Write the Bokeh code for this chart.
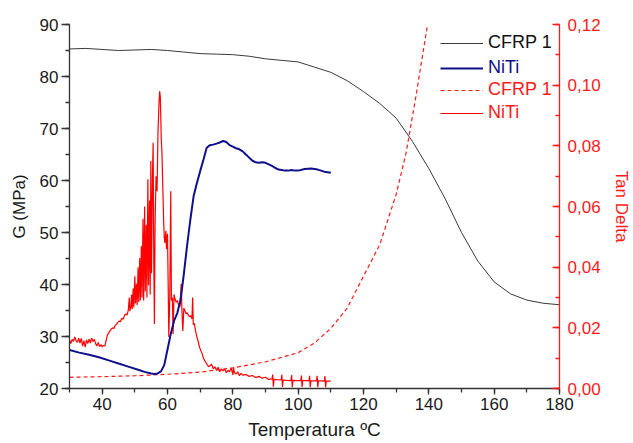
from bokeh.plotting import figure
from bokeh.models import (Range1d, LinearAxis, SingleIntervalTicker, CustomJSTickFormatter,
                          Legend, LegendItem)
from bokeh.embed import file_html
from bokeh.resources import INLINE

FONT = "Liberation Sans"

# ---- data ----
cfrp_G_T = [30, 35, 40, 45, 50, 55, 60, 65, 70, 75, 80, 85, 90, 95, 100, 105, 110, 115, 120,
            125, 130, 135, 140, 145, 150, 155, 160, 165, 170, 175, 180]
cfrp_G = [85.3, 85.4, 85.2, 85.0, 85.1, 85.2, 85.0, 84.7, 84.4, 84.3, 84.2, 83.9, 83.4, 83.1, 82.8,
          81.8, 80.8, 79.2, 77.1, 74.8, 72.0, 67.5, 62.3, 56.5, 50.0, 44.5, 40.5, 38.2, 37.0, 36.4, 36.1]

niti_G_T = [30, 33, 36, 39, 42, 45, 48, 51, 53, 55, 56, 57, 58, 59, 60, 61, 62, 63, 64, 65, 66, 67,
            68, 69, 70, 71, 72, 73, 74, 75, 76, 77, 78, 79, 80, 81, 82, 83, 84, 85, 86, 87, 88, 89,
            90, 91, 92, 93, 94, 95, 96, 97, 98, 99, 100, 102, 104, 106, 108, 110]
niti_G = [27.4, 26.9, 26.5, 26.0, 25.4, 24.8, 24.2, 23.6, 23.2, 22.9, 22.8, 22.9, 23.3, 24.5, 27.5,
          30.5, 33.0, 34.5, 37.0, 42.0, 47.5, 52.5, 57.0, 59.5, 61.8, 64.0, 66.3, 66.8, 66.9, 67.1,
          67.3, 67.6, 67.4, 66.8, 66.5, 66.2, 66.0, 65.6, 65.0, 64.4, 63.8, 63.5, 63.4, 63.5, 63.4,
          63.1, 62.8, 62.4, 62.1, 62.0, 61.9, 61.9, 62.0, 61.9, 61.9, 62.2, 62.3, 62.1, 61.7, 61.5]

cfrp_td_T = [30, 40, 50, 60, 70, 80, 90, 100, 105, 110, 115, 120, 125, 130, 133, 136, 139.6]
cfrp_td = [0.0037, 0.0039, 0.0042, 0.0047, 0.0054, 0.0068, 0.0088, 0.0118, 0.0150, 0.0198,
           0.0265, 0.0370, 0.0475, 0.0640, 0.0775, 0.0960, 0.1200]

niti_td_T = [30.0, 30.4, 30.8, 31.2, 31.6, 32.0, 32.4, 32.8, 33.2, 33.6, 34.0, 34.4, 34.8, 35.2, 35.6,
             36.0, 36.4, 36.8, 37.2, 37.6, 38.0, 38.4, 38.8, 39.2, 39.6, 40.0, 40.4, 40.8, 41.2, 41.6,
             42.0, 42.4, 42.8, 43.2, 43.6, 44.0, 44.4, 44.8, 45.2, 45.6, 46.0, 46.4, 46.8, 47.2, 47.6,
             48.0, 48.3, 48.5, 48.8, 49.0, 49.2, 49.5, 49.7, 50.0, 50.2, 50.5, 50.7, 51.0, 51.2, 51.5,
             51.7, 52.0, 52.2, 52.5, 52.7, 53.0, 53.2, 53.5, 53.7, 54.0, 54.2, 54.5, 54.7, 54.9, 55.1,
             55.4, 55.6, 55.8, 56.0, 56.2, 56.5, 56.8, 57.1, 57.4, 57.6, 57.8, 58.1, 58.3, 58.6, 58.8,
             59.0, 59.2, 59.5, 59.7, 60.0, 60.2, 60.4, 60.7, 61.0, 61.2, 61.5, 61.7, 62.0, 62.2, 62.6,
             63.0, 63.4, 63.8, 64.2, 64.4, 64.7, 65.0, 65.4, 65.7, 66.0, 66.4, 66.8, 67.2, 67.5, 67.7,
             67.9, 68.2, 68.6, 69.0, 69.4, 69.8, 70.2, 70.6, 71.0, 71.4, 71.8, 72.2, 72.6, 73.0, 73.5,
             74.0, 74.5, 75.0, 75.5, 76.0, 76.5, 77.0, 77.5, 78.0, 78.5, 79.0, 79.5, 80.0, 80.2, 80.5,
             81.0, 81.5, 82.0, 82.5, 83.0, 84.0, 85.0, 86.0, 87.0, 88.0, 89.0, 90.0, 91.0, 92.0, 92.2,
             92.4, 92.6, 93.5, 94.8, 95.0, 95.2, 95.4, 96.5, 97.8, 98.0, 98.2, 98.4, 99.5, 100.8, 101.0,
             101.2, 101.4, 102.5, 103.3, 103.5, 103.7, 103.9, 104.8, 105.6, 105.8, 106.0, 106.2, 107.2,
             108.0, 108.2, 108.4, 108.6, 109.4, 110.0]
niti_td = [0.0160, 0.0148, 0.0162, 0.0155, 0.0170, 0.0158, 0.0152, 0.0166, 0.0150, 0.0165, 0.0140,
           0.0158, 0.0136, 0.0160, 0.0148, 0.0163, 0.0150, 0.0166, 0.0155, 0.0162, 0.0148, 0.0140,
           0.0152, 0.0138, 0.0145, 0.0137, 0.0142, 0.0140, 0.0158, 0.0176, 0.0184, 0.0190, 0.0196,
           0.0200, 0.0198, 0.0208, 0.0212, 0.0218, 0.0222, 0.0220, 0.0232, 0.0228, 0.0240, 0.0246,
           0.0242, 0.0258, 0.0300, 0.0255, 0.0270, 0.0310, 0.0262, 0.0330, 0.0268, 0.0370, 0.0280,
           0.0345, 0.0275, 0.0400, 0.0285, 0.0430, 0.0290, 0.0470, 0.0300, 0.0560, 0.0290, 0.0600,
           0.0320, 0.0540, 0.0300, 0.0690, 0.0340, 0.0620, 0.0310, 0.0750, 0.0380, 0.0700, 0.0810,
           0.0420, 0.0213, 0.0550, 0.0700, 0.0650, 0.0850, 0.0940, 0.0980, 0.0960, 0.0820, 0.0780,
           0.0650, 0.0560, 0.0500, 0.0480, 0.0520, 0.0460, 0.0510, 0.0350, 0.0170, 0.0300, 0.0650,
           0.0290, 0.0300, 0.0180, 0.0310, 0.0300, 0.0285, 0.0290, 0.0275, 0.0270, 0.0345, 0.0260,
           0.0190, 0.0265, 0.0255, 0.0246, 0.0250, 0.0242, 0.0236, 0.0240, 0.0230, 0.0300, 0.0210,
           0.0215, 0.0190, 0.0170, 0.0155, 0.0136, 0.0125, 0.0115, 0.0100, 0.0092, 0.0085, 0.0078,
           0.0072, 0.0075, 0.0080, 0.0065, 0.0072, 0.0060, 0.0070, 0.0055, 0.0065, 0.0058, 0.0064,
           0.0052, 0.0060, 0.0055, 0.0068, 0.0045, 0.0070, 0.0052, 0.0048, 0.0055, 0.0042, 0.0050,
           0.0044, 0.0046, 0.0040, 0.0043, 0.0036, 0.0040, 0.0034, 0.0037, 0.0030, 0.0032, 0.0046,
           0.0006, 0.0030, 0.0029, 0.0028, 0.0045, 0.0005, 0.0028, 0.0027, 0.0026, 0.0044, 0.0004,
           0.0027, 0.0026, 0.0026, 0.0043, 0.0005, 0.0026, 0.0026, 0.0025, 0.0042, 0.0004, 0.0025,
           0.0025, 0.0025, 0.0042, 0.0004, 0.0025, 0.0025, 0.0024, 0.0041, 0.0004, 0.0024, 0.0024,
           0.0024]

x_label = "Temperatura ºC"
y_label = "G (MPa)"
y2_label = "Tan Delta"
legend_labels = ["CFRP 1", "NiTi", "CFRP 1", "NiTi"]

# ---- figure ----
p = figure(width=633, height=443, output_backend="svg", toolbar_location=None,
           x_range=Range1d(30, 180), y_range=Range1d(20, 90),
           min_border_left=69, min_border_right=70, min_border_top=24, min_border_bottom=55)
p.outline_line_color = None
p.xgrid.grid_line_color = None
p.ygrid.grid_line_color = None
p.background_fill_color = "white"
p.border_fill_color = "white"
p.extra_y_ranges = {"td": Range1d(0, 0.12)}

AX = "#333333"
RED = "#ff1a1a"
GRAY = "#3a3a3a"
BLUE = "#10108a"

for ax in (p.xaxis[0], p.yaxis[0]):
    ax.axis_line_color = AX
    ax.axis_line_width = 1.3
    ax.major_tick_line_color = AX
    ax.minor_tick_line_color = AX
    ax.major_tick_line_width = 1.3
    ax.minor_tick_line_width = 1.3
    ax.major_tick_in = 0
    ax.minor_tick_in = 0
    ax.major_label_text_font = FONT
    ax.major_label_text_font_size = "17px"
    ax.major_label_text_color = "#1a1a1a"
    ax.axis_label_text_font = FONT
    ax.axis_label_text_font_size = "17px"
    ax.axis_label_text_font_style = "normal"
    ax.axis_label_text_color = "#1a1a1a"

p.xaxis[0].ticker = SingleIntervalTicker(interval=20, num_minor_ticks=2)
p.xaxis[0].major_tick_out = 6
p.xaxis[0].minor_tick_out = 4
p.xaxis[0].major_label_standoff = 3
p.xaxis[0].axis_label = x_label
p.xaxis[0].axis_label_standoff = 6
p.xaxis[0].axis_label_text_font_size = "19px"

p.yaxis[0].ticker = SingleIntervalTicker(interval=10, num_minor_ticks=2)
p.yaxis[0].major_tick_out = 8
p.yaxis[0].minor_tick_out = 4
p.yaxis[0].major_label_standoff = 3
p.yaxis[0].axis_label = y_label
p.yaxis[0].axis_label_standoff = 8

ax2 = LinearAxis(y_range_name="td", axis_label=y2_label,
                 ticker=SingleIntervalTicker(interval=0.02, num_minor_ticks=2),
                 formatter=CustomJSTickFormatter(code="return tick.toFixed(2).replace('.', ',');"))
ax2.axis_line_color = RED
ax2.axis_line_width = 1.3
ax2.major_tick_line_color = RED
ax2.minor_tick_line_color = RED
ax2.major_tick_line_width = 1.3
ax2.minor_tick_line_width = 1.3
ax2.major_tick_in = 7
ax2.major_tick_out = 0
ax2.minor_tick_in = 4
ax2.minor_tick_out = 0
ax2.major_label_standoff = 8
ax2.major_label_text_font = FONT
ax2.major_label_text_font_size = "17px"
ax2.major_label_text_color = RED
ax2.axis_label_text_font = FONT
ax2.axis_label_text_font_size = "17px"
ax2.axis_label_text_font_style = "normal"
ax2.axis_label_text_color = RED
ax2.axis_label_standoff = 8
p.add_layout(ax2, "right")

# ---- lines (solid red drawn first) ----
r_niti_td = p.line(niti_td_T, niti_td, y_range_name="td", line_color="red", line_width=1.2)
r_cfrp_G = p.line(cfrp_G_T, cfrp_G, line_color=GRAY, line_width=1)
r_cfrp_td = p.line(cfrp_td_T, cfrp_td, y_range_name="td", line_color=RED, line_width=1.2,
                   line_dash="4 3")
r_niti_G = p.line(niti_G_T, niti_G, line_color=BLUE, line_width=2)

rends = [r_cfrp_G, r_niti_G, r_cfrp_td, r_niti_td]
text_colors = ["#111111", BLUE, RED, RED]
ybots = [335, 310, 288, 265]

for label, rend, col, ybot in zip(legend_labels, rends, text_colors, ybots):
    lg = Legend(items=[LegendItem(label=label, renderers=[rend])], location=(371, ybot),
                border_line_color=None, background_fill_alpha=0, padding=0, margin=0,
                glyph_width=43, glyph_height=20, label_height=20, label_standoff=5,
                label_text_font=FONT, label_text_font_size="18px", label_text_color=col)
    p.add_layout(lg, "center")

open("out.html", "w").write(file_html(p, INLINE))
